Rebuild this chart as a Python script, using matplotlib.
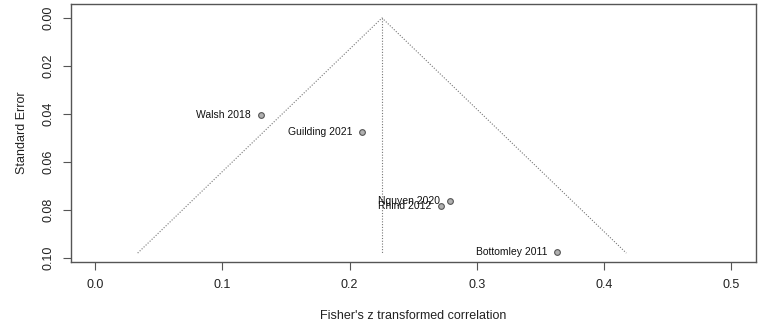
import matplotlib.pyplot as plt
import numpy as np

plt.rcParams['font.family'] = ['Liberation Sans', 'DejaVu Sans']

studies = ["Walsh 2018", "Guilding 2021", "Nguyen 2020", "Rhind 2012", "Bottomley 2011"]
z_corr = [0.130, 0.210, 0.279, 0.272, 0.363]
std_err = [0.0405, 0.0475, 0.0765, 0.0785, 0.0975]
pooled = 0.2255
se_max = 0.098

x_ticks = [0.0, 0.1, 0.2, 0.3, 0.4, 0.5]
y_ticks = [0.00, 0.02, 0.04, 0.06, 0.08, 0.10]

edge = '#555555'

fig = plt.figure(figsize=(7.7, 3.23), dpi=100)
ax = fig.add_axes([0.0922, 0.189, 0.8896, 0.7986])

# funnel + pooled estimate line
ax.plot([pooled - 1.96 * se_max, pooled, pooled + 1.96 * se_max], [se_max, 0, se_max],
        color='#777777', linestyle=(0, (1, 1.5)), linewidth=0.8)
ax.plot([pooled, pooled], [0, se_max], color='#777777', linestyle=(0, (1, 1.5)), linewidth=0.8)

ax.scatter(z_corr, std_err, s=17, facecolor='#b0b0b0', edgecolor='#555555', linewidth=0.8, zorder=3)
for name, x, y in zip(studies, z_corr, std_err):
    ax.annotate(name, (x, y), xytext=(-7, 0), textcoords='offset points',
                ha='right', va='center', fontsize=7.5, color='#111111')

ax.set_xlim(-0.019, 0.5195)
ax.set_ylim(0.1017, -0.0058)
ax.set_xticks(x_ticks)
ax.set_xticklabels(["%.1f" % t for t in x_ticks])
ax.set_yticks(y_ticks)
ax.set_yticklabels(["%.2f" % t for t in y_ticks], rotation=90, va='center')
ax.tick_params(colors=edge, labelcolor='#222222', labelsize=9, length=6, pad=6)
for sp in ax.spines.values():
    sp.set_color(edge)
    sp.set_linewidth(1.0)

ax.set_xlabel("Fisher's z transformed correlation", fontsize=9, color='#222222', labelpad=14)
ax.set_ylabel("Standard Error", fontsize=9, color='#222222', labelpad=10)

plt.savefig("out.png", dpi=100)
